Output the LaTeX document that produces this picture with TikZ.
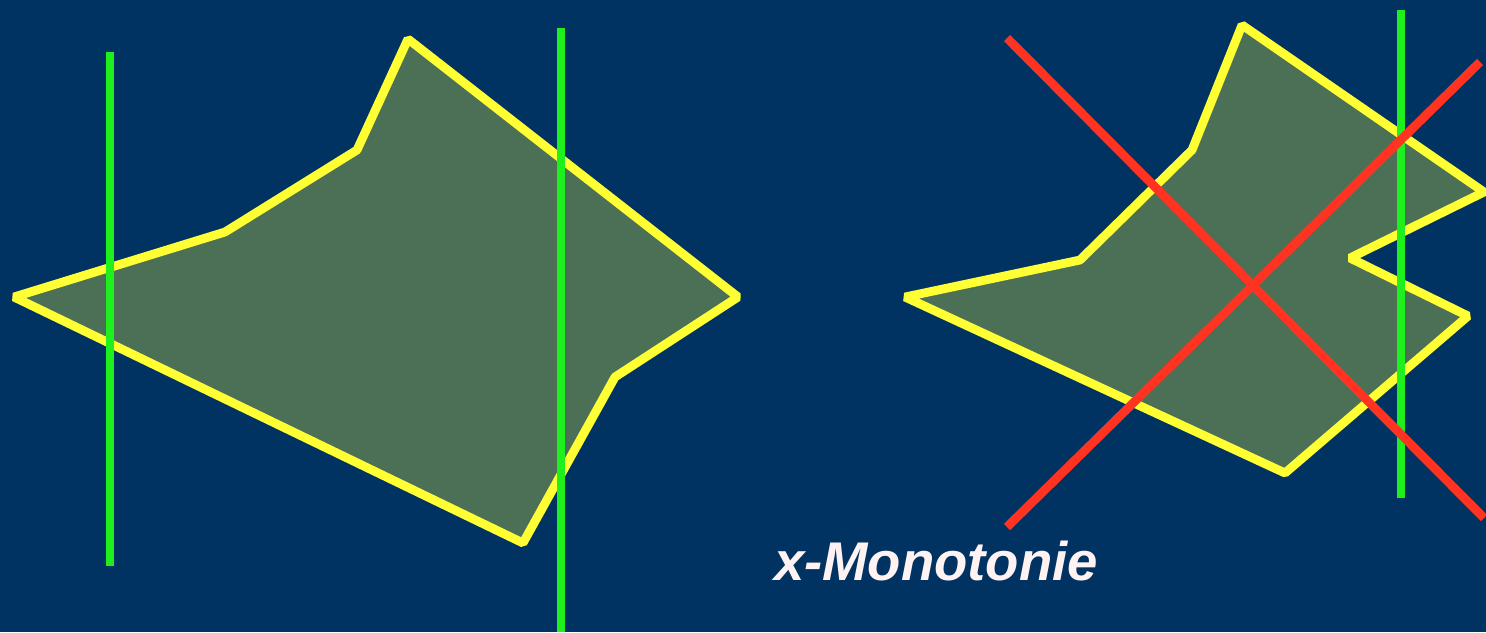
\documentclass[tikz,border=0pt]{standalone}
\usepackage{fontspec}
\setmainfont{Liberation Sans}
\usetikzlibrary{calc}
\definecolor{Slide_Blue}{HTML}{003362}
\definecolor{Poly_Fill}{HTML}{4B7055}
\definecolor{Edge_Yellow}{HTML}{FFFF33}
\definecolor{Sweep_Green}{HTML}{1EF01E}
\definecolor{Cross_Red}{HTML}{FF3322}
\definecolor{Label_White}{HTML}{FFF2F2}

\begin{document}
\begin{tikzpicture}[x=0.01cm, y=-0.01cm]
    % Background
    \fill[Slide_Blue] (0,0) rectangle (1486,632);
    \useasboundingbox (0,0) rectangle (1486,632);

    % Left polygon (x-monotone)
    \draw[line width=2.5pt, Edge_Yellow, fill=Poly_Fill, line join=bevel]
        (14,297) -- (225,232) -- (357,150) -- (408,39) -- (738,297)
        -- (615,377) -- (523,543) -- cycle;

    % Sweep lines left
    \draw[line width=2.5pt, Sweep_Green] (110,52) -- (110,566);
    \draw[line width=2.5pt, Sweep_Green] (561,28) -- (561,632);

    % Right polygon (not x-monotone)
    \draw[line width=2.5pt, Edge_Yellow, fill=Poly_Fill, line join=bevel]
        (905,297) -- (1080,260) -- (1192,150) -- (1242,25) -- (1484,192)
        -- (1350,258) -- (1468,316) -- (1285,473) -- cycle;

    % Sweep line right
    \draw[line width=2.5pt, Sweep_Green] (1401,10) -- (1401,498);

    % Cross
    \draw[line width=2.5pt, Cross_Red] (1007,38) -- (1484,518);
    \draw[line width=2.5pt, Cross_Red] (1007,527) -- (1480,62);

    % Label
    \node[font=\fontsize{15.5}{18}\selectfont\bfseries\itshape, Label_White] (title) at (936,561) {x-Monotonie};

\end{tikzpicture}
\end{document}
